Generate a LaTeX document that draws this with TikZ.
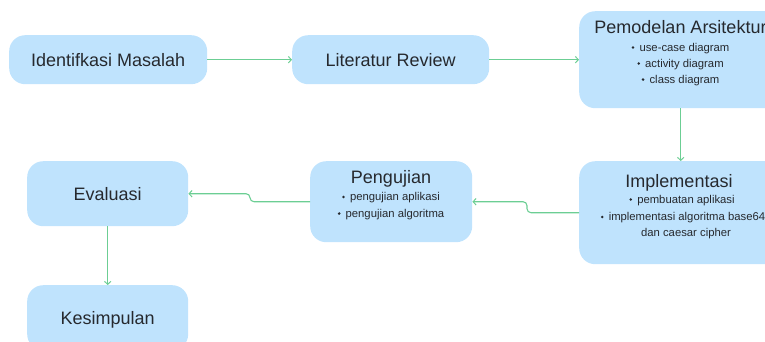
\documentclass[tikz,border=0pt]{standalone}
\usepackage{fontspec}
\setmainfont{Liberation Sans}
\usetikzlibrary{arrows.meta}

\definecolor{boxblue}{RGB}{191,227,253}
\definecolor{ink}{RGB}{38,41,46}
\definecolor{flowgreen}{RGB}{108,206,148}

% small round bullet used in the item lists
\newcommand{\itembullet}{\raisebox{0.35ex}{\tikz\fill[ink] (0,0) circle (1.4pt);}\hspace{0.45em}}

\tikzset{
  stage/.style={draw=none, fill=boxblue, rounded corners=16pt, inner sep=0pt, anchor=north west},
  ttl/.style={font=\fontsize{18}{20}\selectfont, text=ink, inner sep=0pt, anchor=base},
  single/.style={stage, font=\fontsize{18}{20}\selectfont, text=ink, text height=13pt, text depth=0pt},
  itm/.style={font=\fontsize{11.3}{14}\selectfont, text=ink, inner sep=0pt, anchor=base},
  flow/.style={draw=flowgreen, line width=1.1pt, rounded corners=4pt,
    -{Straight Barb[length=3pt,width=6.5pt,line width=1pt]}}
}

\begin{document}
\begin{tikzpicture}[x=1pt, y=-1pt]
  \useasboundingbox (0,0) rectangle (765,341);

  % top row
  \node[single, minimum width=198pt, minimum height=49pt] (ident) at (9,35) {Identifkasi Masalah};
  \node[single, minimum width=197pt, minimum height=49pt] (lit) at (292,35) {Literatur Review};
  \node[stage, minimum width=203pt, minimum height=97pt] (model) at (579,11) {};
  \node[ttl] (modelT) at (680.5,33) {Pemodelan Arsitektur};
  \node[itm] (modelA) at (680.5,51) {\itembullet use-case diagram};
  \node[itm] (modelB) at (680.5,67) {\itembullet activity diagram};
  \node[itm] (modelC) at (680.5,83) {\itembullet class diagram};

  % middle row
  \node[stage, minimum width=203pt, minimum height=103pt] (impl) at (579,161) {};
  \node[ttl] (implT) at (679,187) {Implementasi};
  \node[itm] (implA) at (682,203) {\itembullet pembuatan aplikasi};
  \node[itm] (implB) at (683,220.5) {\itembullet implementasi algoritma base64};
  \node[itm] (implC) at (686,236.5) {dan caesar cipher};

  \node[stage, minimum width=162pt, minimum height=81pt] (test) at (310,161) {};
  \node[ttl] (testT) at (391,183) {Pengujian};
  \node[itm] (testA) at (391,200.5) {\itembullet pengujian aplikasi};
  \node[itm] (testB) at (391,217) {\itembullet pengujian algoritma};

  \node[single, minimum width=161pt, minimum height=65pt] (eval) at (27,161) {Evaluasi};

  % bottom row
  \node[single, minimum width=161pt, minimum height=65pt] (concl) at (27,285) {Kesimpulan};

  % connectors
  \draw[flow] (ident.east) -- (lit.west);
  \draw[flow] (lit.east) -- (model.west);
  \draw[flow] (model.south) -- (impl.north);
  \draw[flow] (impl.west) -- ++(-52,0) |- (test.east);
  \draw[flow] (test.west) -- ++(-60,0) |- (eval.east);
  \draw[flow] (eval.south) -- (concl.north);
\end{tikzpicture}
\end{document}
